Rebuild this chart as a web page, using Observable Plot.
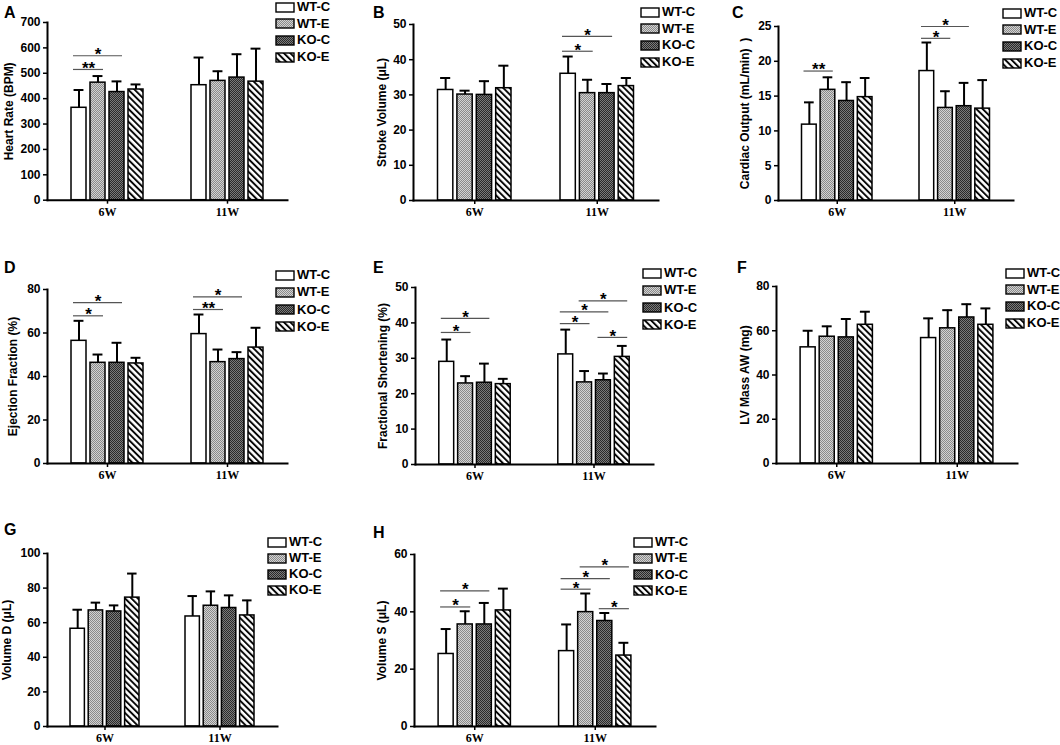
<!DOCTYPE html>
<html><head><meta charset="utf-8">
<script src="https://cdn.jsdelivr.net/npm/d3@7"></script>
<script src="https://cdn.jsdelivr.net/npm/@observablehq/plot@0.6"></script>
<style>
body{margin:0;background:#fff;}
#root{position:relative;width:1060px;height:745px;overflow:hidden;font-family:"Liberation Sans",Arial,sans-serif;background:#fff;}
.plab{position:absolute;font-weight:bold;font-size:16px;line-height:16px;transform:translateY(-50%);}
.leg{position:absolute;font-weight:bold;font-size:13px;line-height:14px;height:14px;display:flex;align-items:center;white-space:nowrap;transform:translateY(-50%);}
.leg svg{margin-right:2px;display:block;}
</style></head><body>
<svg width="0" height="0" style="position:absolute;left:0;top:0">
<defs>
<pattern id="pWTE" width="2" height="2" patternUnits="userSpaceOnUse">
<rect width="2" height="2" fill="#d2d2d2"/><rect width="1" height="1" fill="#8a8a8a"/><rect x="1" y="1" width="1" height="1" fill="#8a8a8a"/>
</pattern>
<pattern id="pKOC" width="2" height="2" patternUnits="userSpaceOnUse">
<rect width="2" height="2" fill="#7a7a7a"/><rect width="1" height="1" fill="#2a2a2a"/><rect x="1" y="1" width="1" height="1" fill="#2a2a2a"/>
</pattern>
<pattern id="pKOE" width="4.5" height="4.5" patternUnits="userSpaceOnUse" patternTransform="rotate(-45)">
<rect width="4.5" height="4.5" fill="#fff"/><line x1="1" y1="0" x2="1" y2="4.5" stroke="#000" stroke-width="1.9"/>
</pattern>
</defs></svg>
<div id="root"></div>
<script>
// ---- data ----
const groups = ["6W", "11W"];
const series = ["WT-C", "WT-E", "KO-C", "KO-E"];

// Heart Rate (BPM)  [6W, 11W] x [WT-C, WT-E, KO-C, KO-E]
const hrMean = [[364, 463, 426, 436], [453, 470, 483, 467]];
const hrErr  = [[70, 26, 42, 20], [109, 38, 92, 130]];
const hrSig  = [["6W", "WT-C", "WT-E", 515, "**"], ["6W", "WT-C", "KO-C", 569, "*"]];

// Stroke Volume (µL)
const svMean = [[31.4, 30.1, 30.0, 31.9], [36.0, 30.5, 30.5, 32.5]];
const svErr  = [[3.4, 1.1, 3.9, 6.4], [4.9, 3.8, 2.6, 2.3]];
const svSig  = [["11W", "WT-C", "WT-E", 42.4, "*"], ["11W", "WT-C", "KO-C", 46.6, "*"]];

// Cardiac Output (mL/min)
const coMean = [[10.9, 15.9, 14.3, 14.85], [18.6, 13.3, 13.55, 13.2]];
const coErr  = [[3.2, 1.8, 2.7, 2.75], [4.1, 2.4, 3.35, 4.1]];
const coSig  = [["6W", "WT-C", "WT-E", 18.6, "**"], ["11W", "WT-C", "WT-E", 23.3, "*"], ["11W", "WT-C", "KO-C", 25.0, "*"]];

// Ejection Fraction (%)
const efMean = [[56.4, 46.3, 46.3, 46.0], [59.5, 46.6, 48.0, 53.3]];
const efErr  = [[9.2, 3.8, 9.2, 2.6], [9.0, 5.8, 3.2, 9.1]];
const efSig  = [["6W", "WT-C", "WT-E", 67.9, "*"], ["6W", "WT-C", "KO-C", 74.0, "*"], ["11W", "WT-C", "WT-E", 70.8, "**"], ["11W", "WT-C", "KO-C", 76.6, "*"]];

// Fractional Shortening (%)
const fsMean = [[29.0, 22.9, 23.1, 22.7], [31.1, 23.2, 23.8, 30.4]];
const fsErr  = [[6.3, 2.05, 5.4, 1.5], [7.0, 3.2, 1.9, 3.1]];
const fsSig  = [["6W", "WT-C", "WT-E", 37.3, "*"], ["6W", "WT-C", "KO-C", 41.3, "*"], ["11W", "WT-C", "WT-E", 39.8, "*"], ["11W", "WT-C", "KO-C", 43.1, "*"], ["11W", "WT-E", "KO-E", 46.2, "*"], ["11W", "KO-C", "KO-E", 35.9, "*"]];

// LV Mass AW (mg)
const lvMean = [[52.5, 57.3, 57.0, 62.7], [56.7, 61.1, 66.0, 62.7]];
const lvErr  = [[7.5, 4.7, 8.3, 5.9], [8.9, 8.2, 6.0, 7.4]];
const lvSig  = [];

// Volume D (µL)
const vdMean = [[56.5, 67.1, 66.5, 74.5], [63.6, 69.8, 68.5, 64.2]];
const vdErr  = [[11.0, 4.5, 3.5, 13.9], [11.8, 8.3, 7.3, 8.7]];
const vdSig  = [];

// Volume S (µL)
const vsMean = [[25.3, 35.6, 35.6, 40.5], [26.3, 39.9, 36.8, 24.75]];
const vsErr  = [[8.7, 4.6, 7.5, 7.6], [9.3, 6.5, 2.8, 4.45]];
const vsSig  = [["6W", "WT-C", "WT-E", 41.7, "*"], ["6W", "WT-C", "KO-C", 47.3, "*"], ["11W", "WT-C", "WT-E", 47.9, "*"], ["11W", "WT-C", "KO-C", 51.6, "*"], ["11W", "WT-E", "KO-E", 55.7, "*"], ["11W", "KO-C", "KO-E", 41.1, "*"]];

// ---- layout (pixels) ----
const panels = [
  {id: "A", title: "Heart Rate (BPM)", mean: hrMean, err: hrErr, sig: hrSig, max: 700, step: 100, axisX: 47, xRight: 287, yTop: 22.3, yBottom: 200, lab: [4, 13], titleOff: 38, leg: [275, 7, 16.7]},
  {id: "B", title: "Stroke Volume (\u03bcL)", mean: svMean, err: svErr, sig: svSig, max: 50, step: 10, axisX: 413, xRight: 658, yTop: 24, yBottom: 200, lab: [373, 13], titleOff: 31, leg: [640, 12, 16.7]},
  {id: "C", title: "Cardiac Output (mL/min)  )", mean: coMean, err: coErr, sig: coSig, max: 25, step: 5, axisX: 778, xRight: 1013, yTop: 26, yBottom: 200, lab: [732, 13], titleOff: 33, leg: [1002, 13, 16.7]},
  {id: "D", title: "Ejection Fraction (%)", mean: efMean, err: efErr, sig: efSig, max: 80, step: 20, axisX: 47, xRight: 287, yTop: 289, yBottom: 463, lab: [4, 268], titleOff: 34, leg: [275, 275, 17.3]},
  {id: "E", title: "Fractional Shortening (%)", mean: fsMean, err: fsErr, sig: fsSig, max: 50, step: 10, axisX: 415, xRight: 653, yTop: 287, yBottom: 464, lab: [373, 268], titleOff: 32, leg: [642, 273, 17.3]},
  {id: "F", title: "LV Mass AW (mg)", mean: lvMean, err: lvErr, sig: lvSig, max: 80, step: 20, axisX: 776, xRight: 1017, yTop: 286, yBottom: 463, lab: [737, 268], titleOff: 31, leg: [1005, 273, 16.7]},
  {id: "G", title: "Volume D (\u03bcL)", mean: vdMean, err: vdErr, sig: vdSig, max: 100, step: 20, axisX: 47, xRight: 277, yTop: 553, yBottom: 726, lab: [4, 530], titleOff: 40, leg: [267, 542, 16]},
  {id: "H", title: "Volume S (\u03bcL)", mean: vsMean, err: vsErr, sig: vsSig, max: 60, step: 20, axisX: 414, xRight: 655, yTop: 554, yBottom: 726, lab: [373, 533], titleOff: 32, leg: [633, 542, 16.3]}
];

const fills = ["#ffffff", "url(#pWTE)", "url(#pKOC)", "url(#pKOE)"];
const root = document.getElementById("root");

function drawPanel(p) {
  const mL = 50, mR = 10, mT = 24, mB = 30;
  const plotW = p.xRight - p.axisX;
  const W = plotW + mL + mR;
  const H = p.yBottom - p.yTop + mT + mB;
  const bw = plotW * 0.3;           // bandwidth with paddingInner .4 / paddingOuter .2
  const b = bw / 4.8;               // bar width
  const g = (bw - 4 * b) / 3;       // gap between bars
  const slot = b + g;
  const capW = b * 0.66;

  const rows = groups.flatMap((gr, gi) => series.map((s, si) => ({
    group: gr, series: s, si, mean: p.mean[gi][si], top: p.mean[gi][si] + p.err[gi][si]
  })));

  const marks = [];
  series.forEach((s, si) => {
    const d = rows.filter(r => r.si === si);
    const left = si * slot, right = bw - b - si * slot;
    const cx = left + b / 2 - bw / 2;
    marks.push(Plot.ruleX(d, {x: "group", y1: "mean", y2: "top", dx: cx, stroke: "#000", strokeWidth: 2}));
    marks.push(Plot.tickY(d, {x: "group", y: "top", insetLeft: left + (b - capW) / 2, insetRight: right + (b - capW) / 2, stroke: "#000", strokeWidth: 2}));
    marks.push(Plot.barY(d, {x: "group", y: "mean", insetLeft: left, insetRight: right, fill: fills[si], stroke: "#000", strokeWidth: 1.5}));
  });

  p.sig.forEach(([gr, s1, s2, yv, lab]) => {
    const i1 = series.indexOf(s1), i2 = series.indexOf(s2);
    const x1 = i1 * slot + 2, x2 = i2 * slot + b - 2;
    const d = [{group: gr, y: yv, lab}];
    marks.push(Plot.ruleY(d, {x1: "group", x2: "group", y: "y", insetLeft: x1, insetRight: bw - x2, stroke: "#555", strokeWidth: 1.2}));
    marks.push(Plot.text(d, {x: "group", y: "y", text: "lab", dx: (x1 + x2) / 2 - bw / 2, dy: -1, fontSize: 17, fontWeight: "bold", fill: "#000"}));
  });

  const ticks = d3.range(0, p.max + p.step / 2, p.step);
  marks.push(Plot.axisY({ticks, tickSize: 4, tickPadding: 3, fontSize: 12, fontWeight: "bold", label: null, strokeWidth: 1.5, tickFormat: d => String(d)}));
  marks.push(Plot.axisX({tickSize: 4, tickPadding: 3, fontSize: 12, fontWeight: "bold", fontFamily: "Liberation Serif, Times New Roman, serif", label: null, strokeWidth: 1.5}));
  marks.push(Plot.frame({anchor: "left", stroke: "#000", strokeWidth: 2}));
  marks.push(Plot.frame({anchor: "bottom", stroke: "#000", strokeWidth: 2}));
  marks.push(Plot.text([p.title], {frameAnchor: "left", textAnchor: "middle", lineAnchor: "middle", rotate: -90, dx: -p.titleOff, fontSize: 12, fontWeight: "bold", fill: "#000"}));

  const svg = Plot.plot({
    width: W, height: H,
    marginLeft: mL, marginRight: mR, marginTop: mT, marginBottom: mB,
    x: {domain: groups, paddingInner: 0.4, paddingOuter: 0.2, align: 0.5, round: false},
    y: {domain: [0, p.max]},
    style: {fontFamily: "Liberation Sans, Arial, sans-serif", color: "#000", background: "transparent", overflow: "visible"},
    marks
  });
  svg.style.position = "absolute";
  svg.style.left = (p.axisX - mL) + "px";
  svg.style.top = (p.yTop - mT) + "px";
  svg.style.maxWidth = "none";
  root.appendChild(svg);

  const pl = document.createElement("div");
  pl.className = "plab";
  pl.textContent = p.id;
  pl.style.left = p.lab[0] + "px";
  pl.style.top = p.lab[1] + "px";
  root.appendChild(pl);

  series.forEach((s, si) => {
    const row = document.createElement("div");
    row.className = "leg";
    row.style.left = p.leg[0] + "px";
    row.style.top = (p.leg[1] + si * p.leg[2]) + "px";
    row.innerHTML = `<svg width="20" height="11"><rect x="1" y="1" width="18" height="9" fill="${fills[si]}" stroke="#000" stroke-width="1.4"/></svg><span>${s}</span>`;
    root.appendChild(row);
  });
}

panels.forEach(drawPanel);
</script>
</body></html>
